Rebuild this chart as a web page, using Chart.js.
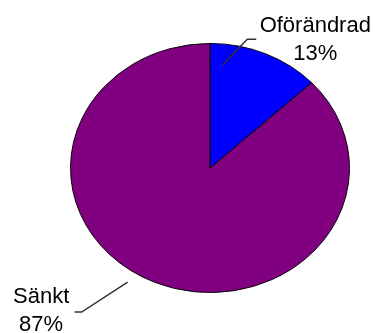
<!DOCTYPE html>
<html>
<head>
<meta charset="utf-8">
<script src="https://cdn.jsdelivr.net/npm/chart.js@4.4.0/dist/chart.umd.min.js"></script>
<style>
  html, body { margin: 0; padding: 0; background: #fff; }
  #wrap { width: 375px; height: 333px; }
</style>
</head>
<body>
<div id="wrap"><canvas id="pie" width="375" height="333"></canvas></div>
<script>
const labels = ['Oförändrad', 'Sänkt'];
const values = [13, 87];
const colors = ['#0000FF', '#800080'];

// pie is drawn squashed a little vertically, like the original
const yScale = 125 / 140;

// where each leader line starts (fraction along slice, fraction of radius),
// the elbow offset, the short tail and where the text sits from the tail end
const labelLayout = [
  { f: 0.13, r: 0.83, elbow: [25, -26], tail: 9, text: [59, -7] },
  { f: 0.53, r: 1.09, elbow: [-46, 30], tail: -7, text: [-33.5, -9] },
];

const ellipsePlugin = {
  id: 'ellipse',
  beforeDatasetsDraw(chart) {
    const arc = chart.getDatasetMeta(0).data[0];
    const ctx = chart.ctx;
    ctx.save();
    ctx.translate(arc.x, arc.y);
    ctx.scale(1, yScale);
    ctx.translate(-arc.x, -arc.y);
  },
  afterDatasetsDraw(chart) {
    chart.ctx.restore();
  }
};

const labelPlugin = {
  id: 'sliceLabels',
  afterDraw(chart) {
    const ctx = chart.ctx;
    const data = chart.data.datasets[0].data;
    const total = data.reduce((a, b) => a + b, 0);
    chart.getDatasetMeta(0).data.forEach((arc, i) => {
      const lay = labelLayout[i];
      const a = arc.startAngle + lay.f * (arc.endAngle - arc.startAngle);
      const rad = lay.r * arc.outerRadius;
      const x0 = arc.x + rad * Math.cos(a);
      const y0 = arc.y + rad * Math.sin(a) * yScale;
      const x1 = x0 + lay.elbow[0], y1 = y0 + lay.elbow[1];
      const x2 = x1 + lay.tail;

      ctx.save();
      ctx.strokeStyle = '#333';
      ctx.lineWidth = 1.5;
      ctx.beginPath();
      ctx.moveTo(x0, y0);
      ctx.lineTo(x1, y1);
      ctx.lineTo(x2, y1);
      ctx.stroke();

      ctx.fillStyle = '#000';
      ctx.font = '22px "Liberation Sans", Arial, sans-serif';
      ctx.textAlign = 'center';
      ctx.textBaseline = 'alphabetic';
      const tx = x2 + lay.text[0], ty = y1 + lay.text[1];
      ctx.fillText(chart.data.labels[i], tx, ty);
      ctx.fillText(Math.round(data[i] / total * 100) + '%', tx, ty + 28);
      ctx.restore();
    });
  }
};

new Chart(document.getElementById('pie'), {
  type: 'pie',
  data: {
    labels: labels,
    datasets: [{
      data: values,
      backgroundColor: colors,
      borderColor: '#000',
      borderWidth: 1
    }]
  },
  options: {
    responsive: false,
    animation: false,
    layout: { padding: { left: 70, right: 25, top: 28, bottom: 25 } },
    plugins: {
      legend: { display: false },
      tooltip: { enabled: false }
    }
  },
  plugins: [ellipsePlugin, labelPlugin]
});
</script>
</body>
</html>
